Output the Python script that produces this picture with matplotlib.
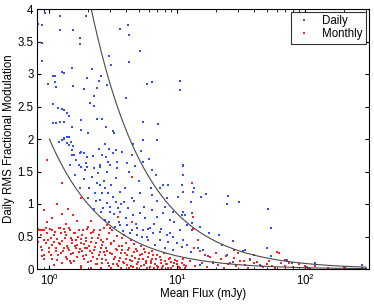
import numpy as np
import matplotlib
matplotlib.use("Agg")
import matplotlib.pyplot as plt

plt.rcParams['font.family'] = ['Liberation Sans', 'DejaVu Sans']
plt.rcParams['mathtext.fontset'] = 'custom'
plt.rcParams['mathtext.rm'] = 'Liberation Sans'
plt.rcParams['mathtext.it'] = 'Liberation Sans:italic'
plt.rcParams['font.size'] = 8.3

# Daily points (mean flux in mJy, fractional modulation)
daily_flux = [
    0.93, 1.22, 1.95, 0.82, 0.88, 1.22, 1.54, 3.59, 4.14, 4.2, 1.72, 1.74, 0.88, 5.13, 2.94,
    0.88, 4.2, 3.05, 1.49, 2.17, 1.26, 1.29, 1.06, 1.11, 1.98, 2.55, 2.46, 10.5, 6.4, 1.1,
    0.98, 5.8, 2.84, 1.13, 1.54, 10.5, 1.88, 2.37, 2.25, 4.0, 2.09, 1.06, 2.25, 1.16, 1.26,
    1.29, 1.38, 1.43, 2.37, 2.6, 1.78, 1.07, 1.13, 1.2, 1.31, 5.4, 7.1, 1.51, 2.79, 1.78,
    3.16, 3.22, 2.02, 1.29, 1.29, 1.43, 5.4, 6.9, 1.18, 1.38, 1.54, 2.46, 2.74, 2.94, 3.34,
    4.53,
    1.49, 1.74, 1.98, 2.21, 2.6, 2.79, 3.16, 2.89, 1.98, 2.25, 2.5, 3.4, 4.06, 4.69, 5.4,
    6.4, 11.1, 2.37, 2.5, 2.74, 2.29, 2.6, 2.89, 3.16, 3.59, 3.85, 4.45, 5.13, 6.4, 7.36,
    8.5, 10.2, 11.1, 2.5, 2.84, 2.99, 3.34, 3.46, 2.64, 2.99, 3.59, 4.14, 4.53, 5.13, 5.62,
    6.4, 6.9, 7.8, 8.8, 9.3, 10.9, 12.0, 3.28, 3.59, 4.06, 4.45, 4.87, 5.4, 6.15, 6.5,
    7.36, 8.3, 9.3, 4.87, 5.8, 7.36, 8.5, 10.0, 11.1, 6.7, 8.05, 9.3, 10.9, 5.95,
    1.19, 1.26, 1.38, 1.47, 1.43, 1.51, 1.56, 1.61, 1.76, 1.87, 1.76, 1.92,
    1.6, 1.7, 1.85, 1.9, 2.05, 2.15, 2.3, 2.4, 2.55, 2.65, 2.7, 2.8, 2.95, 3.05, 3.2,
    3.3, 3.5, 3.6, 3.75, 3.9, 4.0, 4.2, 4.3, 4.6, 4.8, 5.0, 5.3, 5.5, 5.9, 6.2,
    6.6, 7.0, 7.5, 8.0, 8.8, 9.5, 10.5, 1.45, 1.55, 1.75, 2.0, 2.25, 2.5, 3.0, 3.4,
    3.7, 4.4, 5.2, 6.0, 6.8, 7.8, 8.3,
    11.1, 11.1, 10.9, 13.6, 13.3, 16.8, 15.4, 25.0, 24.6, 30.5, 12.7, 11.1, 11.5, 13.1, 13.3,
    51.0, 54.0, 13.1, 13.1, 15.1, 14.6, 17.8, 21.3, 27.4, 32.9, 33.9, 22.5, 14.6, 15.9, 12.0,
    12.7, 17.5, 24.6, 50.0, 54.0, 72.0, 37.0, 27.4, 79.0, 119.0, 205.0, 278.0, 19.0, 15.1, 44.6,
    103.0,
]
daily_mod = [
    3.94, 3.89, 3.89, 3.77, 3.75, 3.68, 3.68, 3.69, 3.75, 3.6, 3.55, 3.46, 3.48, 3.35, 3.28,
    3.2, 3.18, 3.14, 3.09, 3.08, 3.03, 3.02, 2.97, 2.97, 2.94, 2.97, 2.89, 2.89, 2.88, 2.88,
    2.85, 2.85, 2.83, 2.8, 2.82, 2.75, 2.77, 2.78, 2.66, 2.63, 2.55, 2.54, 2.51, 2.48, 2.46,
    2.45, 2.4, 2.35, 2.31, 2.31, 2.29, 2.25, 2.25, 2.26, 2.26, 2.26, 2.23, 2.18, 2.18, 2.14,
    2.12, 2.09, 2.09, 2.02, 2.0, 2.03, 1.98, 1.98, 1.95, 1.94, 1.89, 1.85, 1.92, 1.85, 1.83,
    1.92,
    1.75, 1.78, 1.72, 1.74, 1.75, 1.72, 1.78, 1.65, 1.57, 1.55, 1.57, 1.65, 1.63, 1.58, 1.65,
    1.52, 1.6, 1.32, 1.29, 1.25, 1.17, 1.17, 1.17, 1.11, 1.18, 1.03, 1.09, 1.17, 1.14, 1.25,
    1.29, 1.11, 1.18, 1.06, 1.02, 0.95, 1.03, 0.94, 0.94, 0.88, 0.88, 0.94, 0.83, 0.86, 0.78,
    0.91, 0.8, 0.86, 0.75, 0.88, 0.83, 0.68, 0.65, 0.68, 0.68, 0.6, 0.63, 0.6, 0.63, 0.55,
    0.57, 0.52, 0.49, 0.52, 0.49, 0.45, 0.42, 0.4, 0.45, 0.37, 0.32, 0.29, 0.34, 0.45,
    1.96, 1.98, 2.03, 1.96, 1.91, 1.83, 1.75, 1.68, 1.8, 1.78, 1.57, 1.63,
    1.45, 1.6, 1.38, 1.52, 1.25, 1.42, 1.05, 1.48, 0.88, 1.36, 0.75, 1.5, 0.72, 1.3, 0.85,
    1.4, 0.72, 1.0, 0.58, 1.25, 0.78, 1.5, 0.55, 1.05, 0.7, 1.35, 0.5, 0.95, 0.62, 1.25,
    0.7, 1.05, 0.62, 0.95, 0.55, 0.72, 0.6, 1.6, 1.75, 1.25, 1.1, 0.92, 1.6, 1.6, 1.55,
    1.8, 1.75, 1.82, 1.7, 1.45, 1.3, 1.1,
    1.58, 1.45, 1.29, 1.25, 1.18, 1.15, 1.11, 1.12, 1.0, 1.03, 1.03, 0.88, 0.83, 0.86, 0.8,
    0.92, 0.63, 0.71, 0.6, 0.65, 0.45, 0.55, 0.52, 0.43, 0.28, 0.29, 0.37, 0.32, 0.29, 0.37,
    0.26, 0.2, 0.22, 0.32, 0.2, 0.14, 0.15, 0.11, 0.09, 0.09, 0.03, 0.06, 0.09, 0.06, 0.06,
    0.03,
]

# Monthly points
monthly_flux = [
    0.83, 0.88, 0.935, 1.055, 1.19, 1.30, 1.43, 1.71, 1.98, 2.23, 2.67, 3.11,
    0.855, 0.965, 1.09, 1.23, 1.34, 1.56, 1.81, 2.10, 2.44, 2.93, 3.4, 3.83,
    0.91, 1.025, 1.155, 1.26, 1.47, 1.61, 1.76, 1.92, 2.17, 2.52, 2.84, 3.2, 3.72, 4.32,
    0.935, 1.055, 1.19, 1.38, 1.51, 1.65, 1.87, 2.04, 2.30, 2.59, 3.01, 3.5, 3.95, 4.59, 5.17,
    0.88, 0.99, 1.12, 1.30, 1.43, 1.61, 1.81, 1.98, 2.23, 2.52, 2.84, 3.3, 3.72, 4.19, 4.87,
    5.49, 6.38,
    1.025, 1.23, 1.47, 1.71, 1.92, 2.17, 2.44, 2.67, 3.11, 3.61, 4.07, 4.59, 5.33, 6.01, 6.98,
    7.87,
    0.91, 1.155, 1.38, 1.56, 1.87, 2.10, 2.37, 2.75, 3.2, 3.5, 3.95, 4.45, 5.02, 5.65, 6.38,
    7.41, 8.61, 10.0,
    1.09, 1.47, 1.76, 2.30, 2.59, 2.93, 3.4, 3.83, 4.32, 4.87, 5.49, 6.19, 6.98, 8.11, 9.42,
    11.3,
    1.76, 2.10, 2.52, 3.01, 3.61, 4.19, 4.87, 5.83, 6.57, 7.64, 8.87, 10.6, 11.6,
    0.82, 0.86, 0.90, 0.97, 1.0, 1.04, 1.08, 1.13, 1.17, 1.21, 1.25, 1.28, 1.32, 1.36, 1.40,
    1.45, 1.49, 1.53, 1.58, 1.63, 1.68, 1.73, 1.78, 1.84, 1.89, 1.95, 2.01, 2.07, 2.13, 2.20,
    2.27, 2.34, 2.41, 2.48, 2.56, 2.63, 2.71, 2.79, 2.88, 2.97, 3.06, 3.15, 3.25, 3.35, 3.45,
    3.56, 3.67, 3.78, 3.89, 4.01, 4.13, 4.26, 4.39, 4.52, 4.66, 4.80, 4.95, 5.10, 5.25, 5.41,
    5.57, 5.74, 5.92, 6.10, 6.28, 6.48, 6.68, 6.88, 7.09, 7.31, 7.53, 7.76, 8.0, 8.24, 8.49,
    8.75, 9.0, 9.3, 9.6, 9.9, 10.3, 10.8, 11.0, 11.8, 0.88,
    0.96, 1.26, 0.9, 1.15, 1.26, 1.41, 1.65, 1.54, 1.78, 4.45, 4.45, 3.46, 2.84, 0.81, 0.85,
    0.91, 1.02, 1.11, 1.22, 1.33, 1.46, 1.6, 1.84, 2.02, 2.21, 2.5, 2.99, 1.05, 1.35, 2.1,
    0.95,
    13.1, 13.3, 13.3, 14.6, 13.5, 15.0, 16.5, 18.0, 20.0, 22.0, 24.0, 26.0, 28.0, 31.0, 34.0,
    37.0, 40.0, 45.0, 50.0, 55.0, 60.0, 65.0, 70.0, 80.0, 90.0, 110.0, 120.0, 150.0, 200.0, 280.0,
    12.5, 13.8, 15.5, 17.0, 19.0, 21.0, 23.0, 25.0, 29.0, 33.0, 36.0, 42.0, 47.0, 52.0, 58.0,
    75.0, 100.0, 105.0, 40.0, 28.0, 30.0, 62.0, 70.0, 205.0,
]
monthly_mod = [
    0.60, 0.60, 0.63, 0.60, 0.63, 0.62, 0.63, 0.60, 0.62, 0.60, 0.63, 0.60,
    0.52, 0.55, 0.52, 0.55, 0.52, 0.55, 0.53, 0.55, 0.52, 0.55, 0.51, 0.53,
    0.45, 0.47, 0.46, 0.43, 0.47, 0.45, 0.46, 0.43, 0.47, 0.45, 0.46, 0.43, 0.47, 0.45,
    0.40, 0.37, 0.40, 0.36, 0.40, 0.37, 0.38, 0.36, 0.40, 0.37, 0.38, 0.36, 0.40, 0.38, 0.36,
    0.29, 0.32, 0.28, 0.32, 0.29, 0.32, 0.28, 0.32, 0.29, 0.32, 0.28, 0.31, 0.29, 0.32, 0.28,
    0.31, 0.28,
    0.22, 0.24, 0.23, 0.26, 0.22, 0.24, 0.22, 0.26, 0.23, 0.24, 0.22, 0.26, 0.23, 0.24, 0.22,
    0.25,
    0.16, 0.14, 0.16, 0.12, 0.15, 0.13, 0.16, 0.14, 0.16, 0.12, 0.15, 0.13, 0.16, 0.13, 0.15,
    0.14, 0.16, 0.12,
    0.06, 0.09, 0.05, 0.07, 0.09, 0.05, 0.07, 0.09, 0.05, 0.08, 0.06, 0.09, 0.05, 0.07, 0.09,
    0.06,
    0.02, 0.01, 0.02, 0.01, 0.02, 0.01, 0.02, 0.01, 0.02, 0.01, 0.02, 0.02, 0.01,
    0.41, 0.34, 0.22, 0.44, 0.26, 0.15, 0.42, 0.33, 0.21, 0.38, 0.10, 0.27, 0.48, 0.19, 0.33,
    0.12, 0.44, 0.25, 0.35, 0.18, 0.50, 0.31, 0.40, 0.20, 0.33, 0.47, 0.11, 0.28, 0.41, 0.18,
    0.34, 0.08, 0.47, 0.26, 0.15, 0.42, 0.21, 0.33, 0.10, 0.25, 0.40, 0.07, 0.19, 0.29, 0.04,
    0.17, 0.35, 0.11, 0.24, 0.06, 0.30, 0.14, 0.20, 0.03, 0.17, 0.31, 0.11, 0.21, 0.04, 0.15,
    0.26, 0.09, 0.18, 0.03, 0.12, 0.21, 0.07, 0.15, 0.03, 0.19, 0.10, 0.04, 0.13, 0.08, 0.02,
    0.17, 0.11, 0.04, 0.14, 0.07, 0.03, 0.10, 0.15, 0.05, 0.20,
    1.68, 1.32, 0.91, 1.0, 0.85, 0.92, 0.74, 0.83, 1.09, 1.42, 0.72, 0.80, 0.68, 0.62, 0.60,
    0.6, 0.62, 0.57, 0.63, 0.57, 0.6, 0.55, 0.6, 0.65, 0.57, 0.6, 0.63, 0.78, 0.70, 0.74,
    0.72,
    1.32, 0.80, 0.62, 0.45, 0.33, 0.28, 0.22, 0.18, 0.25, 0.15, 0.2, 0.1, 0.17, 0.12, 0.06,
    0.14, 0.09, 0.05, 0.08, 0.04, 0.26, 0.1, 0.05, 0.03, 0.07, 0.02, 0.05, 0.02, 0.03, 0.02,
    0.12, 0.05, 0.09, 0.03, 0.11, 0.06, 0.02, 0.08, 0.04, 0.13, 0.02, 0.11, 0.03, 0.12, 0.02,
    0.09, 0.05, 0.01, 0.22, 0.3, 0.25, 0.25, 0.14, 0.02,
]

# the two model curves: modulation = k / flux
curve_k = [2.0, 8.5]
curve_x = np.logspace(0, np.log10(300), 300)

fig = plt.figure(figsize=(3.74, 3.04), dpi=100)
ax = fig.add_axes([37 / 374, 35 / 304, 332 / 374, 260 / 304])

ax.plot(daily_flux, daily_mod, 's', color='#3050ff', ms=1.6, mew=0, label='Daily')
ax.plot(monthly_flux, monthly_mod, 's', color='#ff2020', ms=1.6, mew=0, label='Monthly')
for k in curve_k:
    ax.plot(curve_x, k / curve_x, '-', color='#4a4a4a', lw=0.8)

ax.set_xscale('log')
ax.set_xlim(0.8, 316)
ax.set_ylim(0, 4)
ax.set_yticks(np.arange(0, 4.01, 0.5))
ax.set_yticklabels(['0', '0.5', '1', '1.5', '2', '2.5', '3', '3.5', '4'])
ax.tick_params(which='both', direction='in', top=True, right=True, labelsize=8.3)
ax.tick_params(which='major', length=3, pad=2.5)
ax.tick_params(which='minor', length=1.8)
for s in ax.spines.values():
    s.set_linewidth(0.8)

ax.set_xlabel('Mean Flux (mJy)', fontsize=8.3, labelpad=0.5)
ax.set_ylabel('Daily RMS Fractional Modulation', fontsize=8.3, labelpad=2)

leg = ax.legend(loc='upper right', fontsize=8.3, frameon=True, fancybox=False,
                borderaxespad=0.25, handlelength=1.6, handletextpad=0.8,
                borderpad=0.3, labelspacing=0.1)
leg.get_frame().set_edgecolor('black')
leg.get_frame().set_linewidth(0.8)

fig.savefig('out.png', dpi=100)
